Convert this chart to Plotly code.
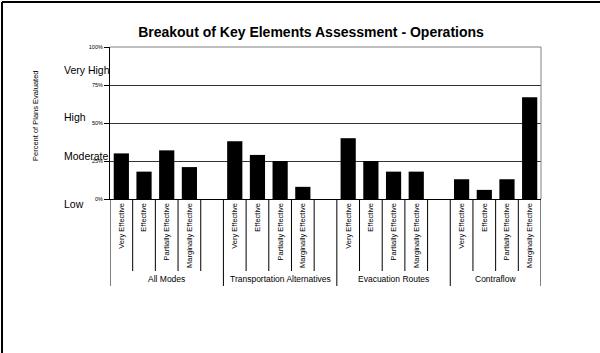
import plotly.graph_objects as go

groups = ["All Modes", "Transportation Alternatives", "Evacuation Routes", "Contraflow"]
ratings = ["Very Effective", "Effective", "Partially Effective", "Marginally Effective"]
all_modes = [30, 18, 32, 21]
transportation = [38, 29, 25, 8]
evacuation = [40, 25, 18, 18]
contraflow = [13, 6, 13, 67]
levels = ["Very High", "High", "Moderate", "Low"]
level_pos = [85, 54, 28, -3]
y_ticks = [0, 25, 50, 75, 100]
y_tick_text = ["0%", "25%", "50%", "75%", "100%"]

series = [all_modes, transportation, evacuation, contraflow]
slots_per_group = 5

xs, ys, texts = [], [], []
for g, vals in enumerate(series):
    for i, v in enumerate(vals):
        xs.append(g * slots_per_group + i)
        ys.append(v)
        texts.append(ratings[i])

n_slots = slots_per_group * (len(groups) - 1) + len(ratings)

W, H = 600, 353
L, R, T, B = 110, 59, 47, 154
pw, ph = W - L - R, H - T - B
y_min, y_max = y_ticks[0], y_ticks[-1]

def py(p):
    return (H - B - p) / ph

def px(p):
    return (p - L) / pw

def val_to_paper(v):
    return (v - y_min) / (y_max - y_min)

fig = go.Figure()
fig.add_trace(go.Bar(x=xs, y=ys, marker=dict(color="black", line=dict(width=0)),
                     width=0.67, showlegend=False))

shapes = []
group_bounds = [-0.5] + [g * slots_per_group - 0.5 for g in range(1, len(groups))] + [n_slots - 0.5]
for k in range(n_slots + 1):
    xb = k - 0.5
    long = xb in group_bounds
    shapes.append(dict(type="line", xref="x", yref="paper", x0=xb, x1=xb,
                       y0=0, y1=py(286) if long else py(271),
                       line=dict(color="black", width=1)))
# plot border top/right
shapes.append(dict(type="line", xref="paper", yref="paper", x0=0, x1=1, y0=1, y1=1,
                   line=dict(color="#808080", width=1)))
shapes.append(dict(type="line", xref="paper", yref="paper", x0=1, x1=1, y0=0, y1=1,
                   line=dict(color="#808080", width=1)))
# outer frame top/left
shapes.append(dict(type="line", xref="paper", yref="paper", x0=px(2), x1=px(600), y0=py(2), y1=py(2),
                   line=dict(color="black", width=2)))
shapes.append(dict(type="line", xref="paper", yref="paper", x0=px(2), x1=px(2), y0=py(2), y1=py(353),
                   line=dict(color="black", width=2)))

annotations = []
for g, name in enumerate(groups):
    start = g * slots_per_group - 0.5
    end = min((g + 1) * slots_per_group, n_slots) - 0.5
    annotations.append(dict(x=(start + end) / 2, y=py(279), xref="x", yref="paper",
                            text=name, showarrow=False, xanchor="center", yanchor="middle",
                            font=dict(size=8.5, color="black", family="Liberation Sans")))
for lv, pos in zip(levels, level_pos):
    annotations.append(dict(x=px(62), y=val_to_paper(pos), xref="paper", yref="paper", text=lv,
                            showarrow=False, xanchor="left", yanchor="middle",
                            font=dict(size=10.5, color="black", family="Liberation Sans")))
annotations.append(dict(x=px(35), y=py(116), xref="paper", yref="paper",
                        text="Percent of Plans Evaluated", textangle=-90, showarrow=False,
                        xanchor="center", yanchor="middle",
                        font=dict(size=7.5, color="black", family="Liberation Sans")))

fig.update_layout(
    width=W, height=H,
    margin=dict(l=L, r=R, t=T, b=B),
    paper_bgcolor="white", plot_bgcolor="white",
    title=dict(text="<b>Breakout of Key Elements Assessment - Operations</b>",
               x=311 / W, xref="container", xanchor="center",
               y=1 - 32 / H, yanchor="middle",
               font=dict(size=14, color="black", family="Liberation Sans")),
    shapes=shapes, annotations=annotations,
    xaxis=dict(range=[-0.5, n_slots - 0.5], tickmode="array", tickvals=xs, ticktext=texts,
               tickangle=-90, ticks="", showgrid=False, zeroline=False,
               showline=True, linecolor="black", linewidth=1,
               tickfont=dict(size=7.5, color="black", family="Liberation Sans")),
    yaxis=dict(range=[y_min, y_max], tickmode="array", tickvals=y_ticks, ticktext=y_tick_text,
               ticks="outside", ticklen=5, tickcolor="black",
               showgrid=True, gridcolor="#333333", gridwidth=1, zeroline=False,
               showline=True, linecolor="black", linewidth=1,
               tickfont=dict(size=5.5, color="black", family="Liberation Sans")),
    bargap=0.33,
)

fig.write_html("out.html")
